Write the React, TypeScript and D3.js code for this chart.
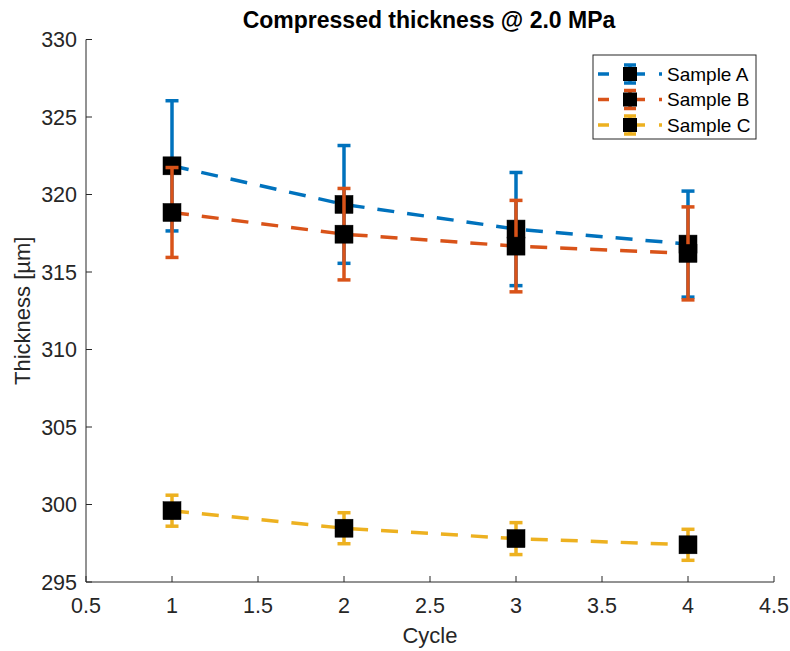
import React, { useEffect } from "react";
import * as d3 from "d3";

const cycles = [1, 2, 3, 4];
const sampleA = [321.85, 319.36, 317.77, 316.8];
const errA = [4.2, 3.8, 3.65, 3.42];
const sampleB = [318.84, 317.44, 316.67, 316.2];
const errB = [2.9, 2.95, 2.95, 3.0];
const sampleC = [299.6, 298.47, 297.8, 297.4];
const errC = [1.0, 1.0, 1.03, 1.0];
const seriesNames = ["Sample A", "Sample B", "Sample C"];
const seriesColors = ["#0072BD", "#D95319", "#EDB120"];
const xTicks = [0.5, 1, 1.5, 2, 2.5, 3, 3.5, 4, 4.5];
const yTicks = [295, 300, 305, 310, 315, 320, 325, 330];

const W = 790;
const H = 651;
const FONT = "'Liberation Sans', Arial, Helvetica, sans-serif";

export default function App() {
  useEffect(() => {
    document.body.style.margin = "0";
  }, []);

  const x = d3.scaleLinear().domain([0.5, 4.5]).range([86, 774]);
  const y = d3.scaleLinear().domain([295, 330]).range([582, 39.5]);
  const line = d3
    .line<number>()
    .x((_, i) => x(cycles[i]))
    .y((d) => y(d));

  const series = [
    { name: seriesNames[0], vals: sampleA, errs: errA, color: seriesColors[0] },
    { name: seriesNames[1], vals: sampleB, errs: errB, color: seriesColors[1] },
    { name: seriesNames[2], vals: sampleC, errs: errC, color: seriesColors[2] },
  ];

  const ms = 18;
  const cap = 6.5;
  const axisColor = "#262626";
  const fs = 21.5;

  return (
    <svg width={W} height={H} style={{ position: "absolute", left: 0, top: 0, background: "#fff" }}>
      <rect x={0} y={0} width={W} height={H} fill="#fff" />
      {/* axes */}
      <line x1={86} x2={86} y1={y(330)} y2={y(295)} stroke={axisColor} strokeWidth={1} />
      <line x1={86} x2={774} y1={y(295)} y2={y(295)} stroke={axisColor} strokeWidth={1} />
      {yTicks.map((t) => (
        <g key={"y" + t}>
          <line x1={86} x2={92} y1={y(t)} y2={y(t)} stroke={axisColor} />
          <text x={77} y={y(t)} dy="0.36em" textAnchor="end" fontFamily={FONT} fontSize={fs} fill="#262626">
            {t}
          </text>
        </g>
      ))}
      {xTicks.map((t) => (
        <g key={"x" + t}>
          <line x1={x(t)} x2={x(t)} y1={582} y2={576} stroke={axisColor} />
          <text x={x(t)} y={613} textAnchor="middle" fontFamily={FONT} fontSize={fs} fill="#262626">
            {String(t)}
          </text>
        </g>
      ))}
      <text x={430} y={643} textAnchor="middle" fontFamily={FONT} fontSize={fs + 0.5} fill="#262626">
        Cycle
      </text>
      <text
        transform={`translate(30, ${(y(330) + y(295)) / 2}) rotate(-90)`}
        textAnchor="middle"
        fontFamily={FONT}
        fontSize={fs + 0.5}
        fill="#262626"
      >
        Thickness [µm]
      </text>
      <text x={429} y={28} textAnchor="middle" fontFamily={FONT} fontSize={23} fontWeight="bold" fill="#000">
        Compressed thickness @ 2.0 MPa
      </text>

      {/* series */}
      {series.map((s) => (
        <g key={s.name}>
          <path d={line(s.vals) || ""} fill="none" stroke={s.color} strokeWidth={3.5} strokeDasharray="17,13" />
          {s.vals.map((v, i) => (
            <g key={i}>
              <line x1={x(cycles[i])} x2={x(cycles[i])} y1={y(v + s.errs[i])} y2={y(v - s.errs[i])} stroke={s.color} strokeWidth={3.5} />
              <line x1={x(cycles[i]) - cap} x2={x(cycles[i]) + cap} y1={y(v + s.errs[i])} y2={y(v + s.errs[i])} stroke={s.color} strokeWidth={3.5} />
              <line x1={x(cycles[i]) - cap} x2={x(cycles[i]) + cap} y1={y(v - s.errs[i])} y2={y(v - s.errs[i])} stroke={s.color} strokeWidth={3.5} />
            </g>
          ))}
          {s.vals.map((v, i) => (
            <rect key={"m" + i} x={x(cycles[i]) - ms / 2} y={y(v) - ms / 2} width={ms} height={ms} fill="#000" stroke="#000" strokeWidth={0.5} />
          ))}
        </g>
      ))}

      {/* legend */}
      <rect x={593} y={55} width={163} height={84} fill="#fff" stroke={axisColor} strokeWidth={1} />
      {series.map((s, i) => {
        const ly = 74 + i * 25.5;
        return (
          <g key={"lg" + s.name}>
            <line x1={598} x2={662} y1={ly} y2={ly} stroke={s.color} strokeWidth={3.5} strokeDasharray="22,14" strokeDashoffset={11} />
            <line x1={630} x2={630} y1={ly - 9} y2={ly + 9} stroke={s.color} strokeWidth={3.5} />
            <line x1={624} x2={636} y1={ly - 9} y2={ly - 9} stroke={s.color} strokeWidth={3.5} />
            <line x1={624} x2={636} y1={ly + 9} y2={ly + 9} stroke={s.color} strokeWidth={3.5} />
            <rect x={630 - 7} y={ly - 7} width={14} height={14} fill="#000" />
            <text x={667} y={ly} dy="0.36em" fontFamily={FONT} fontSize={19} fill="#000">
              {s.name}
            </text>
          </g>
        );
      })}
    </svg>
  );
}
